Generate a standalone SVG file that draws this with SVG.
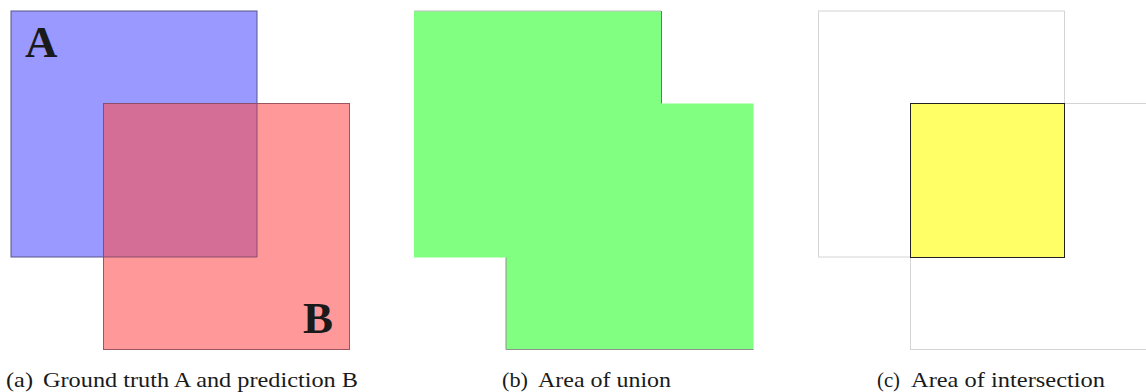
<svg xmlns="http://www.w3.org/2000/svg" width="1146" height="392" viewBox="0 0 1146 392">
<style>
.cap{font-family:"Liberation Serif","Times New Roman",serif;font-size:21px;fill:#1a1a1a}
.lbl{font-family:"Liberation Serif","Times New Roman",serif;font-size:45px;font-weight:bold;fill:#1a1a1a}
.ghost{fill:none;stroke:#d4d4d4;stroke-width:1}
</style>
<rect width="1146" height="392" fill="#ffffff"/>
<g id="panel-a">
  <g id="box-A">
    <rect x="11" y="11" width="246" height="246" fill="#9999ff" stroke="#55558c" stroke-width="1"/>
  </g>
  <g id="box-B">
    <rect x="103.5" y="103.5" width="246" height="246" fill="#ff9999" stroke="#9a5560" stroke-width="1"/>
    <rect x="103.5" y="103.5" width="153.5" height="153.5" fill="#d46e96"/>
    <path d="M103.5 257 V103.5 H257 V257 Z" fill="none" stroke="#8a4e6a" stroke-width="1"/>
  </g>
  <text class="lbl" x="25" y="57">A</text>
  <text class="lbl" x="303" y="333">B</text>
  <text class="cap" y="387"><tspan x="6" textLength="27" lengthAdjust="spacingAndGlyphs">(a)</tspan><tspan x="43" textLength="315" lengthAdjust="spacingAndGlyphs">Ground truth A and prediction B</tspan></text>
</g>
<g id="panel-b">
  <g id="union">
    <path d="M414 11 H661 V103.5 H753.5 V349.5 H506 V257.5 H414 Z" fill="#80ff80"/>
    <path d="M414 11 H661" stroke="#c0c0c0" stroke-width="1" fill="none"/>
    <path d="M661.5 11 V103.5" stroke="#707070" stroke-width="1" fill="none"/>
    <path d="M506 257.5 V349.5 H753.5" stroke="#909090" stroke-width="1" fill="none"/>
  </g>
  <text class="cap" y="387"><tspan x="502" textLength="26" lengthAdjust="spacingAndGlyphs">(b)</tspan><tspan x="538" textLength="133" lengthAdjust="spacingAndGlyphs">Area of union</tspan></text>
</g>
<g id="panel-c">
  <rect class="ghost" x="818.5" y="11" width="246" height="246"/>
  <rect class="ghost" x="910.5" y="103.5" width="246" height="246"/>
  <g id="intersection">
    <rect x="910.5" y="103.5" width="154" height="154" fill="#ffff66" stroke="#222222" stroke-width="1"/>
  </g>
  <text class="cap" y="387"><tspan x="877" textLength="23" lengthAdjust="spacingAndGlyphs">(c)</tspan><tspan x="911" textLength="194" lengthAdjust="spacingAndGlyphs">Area of intersection</tspan></text>
</g>
</svg>
